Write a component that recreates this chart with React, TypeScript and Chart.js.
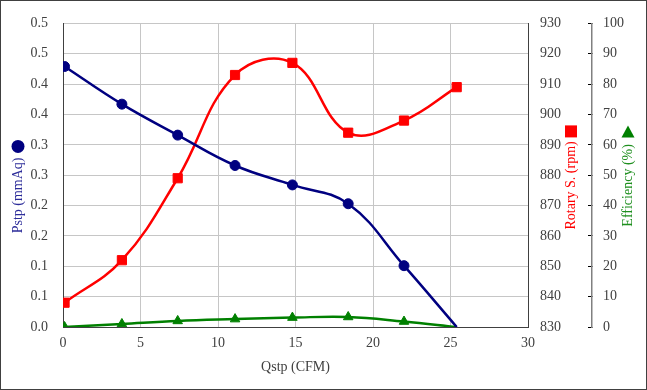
import { useEffect, useRef } from 'react';
import { Chart, registerables } from 'chart.js';

Chart.register(...registerables);

// ---- data ----
const qstp = [0.1, 3.8, 7.4, 11.1, 14.8, 18.4, 22.0, 25.4];
const pstp = [0.429, 0.367, 0.316, 0.266, 0.234, 0.203, 0.101, 0.0];
const rotarySpeed = [838, 852, 879, 913, 917, 894, 898, 909];
const efficiency = [0.0, 1.0, 2.0, 2.6, 3.1, 3.3, 1.8, 0.0];

const xRange = [0, 30, 5];
const pstpRange = [0, 0.5, 0.05];
const rpmRange = [830, 930, 10];
const effRange = [0, 100, 10];

const xTitle = 'Qstp (CFM)';
const pstpTitle = 'Pstp (mmAq)';
const rpmTitle = 'Rotary S. (rpm)';
const effTitle = 'Efficiency (%)';

const NAVY = '#000080';
const RED = '#ff0000';
const GREEN = '#008000';
const TEXT = '#404040';
const GRID = '#c6c6c6';
const AXIS = '#404040';
const FONT = "'Liberation Serif', 'Times New Roman', serif";

const toPoints = (ys: number[]) => qstp.map((x, i) => ({ x, y: ys[i] }));

const titlesPlugin = {
  id: 'titlesPlugin',
  afterDraw(chart: any) {
    const ctx = chart.ctx as CanvasRenderingContext2D;
    const ca = chart.chartArea;
    const yEff = chart.scales.y2;
    ctx.save();
    ctx.font = `14px ${FONT}`;
    ctx.textAlign = 'center';
    ctx.textBaseline = 'middle';

    const vtext = (txt: string, x: number, y: number, color: string) => {
      ctx.save();
      ctx.translate(x, y);
      ctx.rotate(-Math.PI / 2);
      ctx.fillStyle = color;
      ctx.fillText(txt, 0, 0);
      ctx.restore();
    };

    // left title + circle key
    const lx = 18;
    vtext(pstpTitle, lx, ca.top + 172, '#2b2b99');
    ctx.fillStyle = NAVY;
    ctx.beginPath();
    ctx.arc(lx, ca.top + 123, 6.5, 0, Math.PI * 2);
    ctx.fill();

    // rpm title + square key
    const rx = ca.right + 43;
    vtext(rpmTitle, rx, ca.top + 162, RED);
    ctx.fillStyle = RED;
    ctx.fillRect(rx - 6, ca.top + 108 - 6, 12, 12);

    // efficiency title + triangle key
    const ex = yEff.right - 19;
    vtext(effTitle, ex, ca.top + 162, '#1f8f1f');
    ctx.fillStyle = GREEN;
    ctx.beginPath();
    ctx.moveTo(ex, ca.top + 108 - 6);
    ctx.lineTo(ex + 6.5, ca.top + 108 + 6);
    ctx.lineTo(ex - 6.5, ca.top + 108 + 6);
    ctx.closePath();
    ctx.fill();

    // outer frame
    ctx.strokeStyle = '#404040';
    ctx.lineWidth = 1;
    ctx.strokeRect(0.5, 0.5, chart.width - 1, chart.height - 1);
    ctx.restore();
  },
};

export default function App() {
  const ref = useRef<HTMLCanvasElement | null>(null);

  useEffect(() => {
    if (!ref.current) return;
    const chart = new Chart(ref.current, {
      type: 'line',
      data: {
        datasets: [
          {
            label: pstpTitle,
            data: toPoints(pstp),
            yAxisID: 'y',
            borderColor: NAVY,
            backgroundColor: NAVY,
            borderWidth: 2.5,
            pointStyle: 'circle',
            pointRadius: pstp.map((_, i) => (i === pstp.length - 1 ? 0 : 5)),
            pointBorderWidth: 1,
            tension: 0.4,
          },
          {
            label: rpmTitle,
            data: toPoints(rotarySpeed),
            yAxisID: 'y1',
            borderColor: RED,
            backgroundColor: RED,
            borderWidth: 2.5,
            pointStyle: 'rect',
            pointRadius: 6.5,
            pointBorderWidth: 1,
            tension: 0.4,
          },
          {
            label: effTitle,
            data: toPoints(efficiency),
            yAxisID: 'y2',
            borderColor: GREEN,
            backgroundColor: GREEN,
            borderWidth: 2.5,
            pointStyle: 'triangle',
            pointRadius: efficiency.map((_, i) => (i === efficiency.length - 1 ? 0 : 5.5)),
            pointBorderWidth: 1,
            tension: 0.4,
          },
        ],
      },
      options: {
        responsive: false,
        animation: false,
        layout: { padding: { top: 19, left: 0, right: 0, bottom: 0 } },
        plugins: { legend: { display: false }, tooltip: { enabled: false } },
        font: { family: FONT, size: 14 },
        scales: {
          x: {
            type: 'linear',
            position: 'bottom',
            min: xRange[0],
            max: xRange[1],
            afterFit: (s: any) => { s.height = 63; },
            ticks: { stepSize: xRange[2], color: TEXT, font: { family: FONT, size: 14 }, padding: 8, maxRotation: 0 },
            grid: { color: GRID, drawTicks: false },
            border: { color: AXIS, width: 1 },
            title: { display: true, text: xTitle, color: TEXT, font: { family: FONT, size: 14 }, padding: { top: 0, bottom: 14 } },
          },
          y: {
            type: 'linear',
            position: 'left',
            min: pstpRange[0],
            max: pstpRange[1],
            afterFit: (s: any) => { s.width = 63; },
            ticks: {
              stepSize: pstpRange[2],
              color: TEXT,
              font: { family: FONT, size: 14 },
              padding: 15,
              callback: (v: any) => (Math.round(Number(v) * 10 + 1e-6) / 10).toFixed(1),
            },
            grid: { color: GRID, drawTicks: false },
            border: { color: AXIS, width: 1 },
          },
          y1: {
            type: 'linear',
            position: 'right',
            weight: 1,
            min: rpmRange[0],
            max: rpmRange[1],
            afterFit: (s: any) => { s.width = 64; },
            ticks: { stepSize: rpmRange[2], color: TEXT, font: { family: FONT, size: 14 }, padding: 12 },
            grid: { drawOnChartArea: false, drawTicks: false },
            border: { color: AXIS, width: 1 },
          },
          y2: {
            type: 'linear',
            position: 'right',
            weight: 2,
            min: effRange[0],
            max: effRange[1],
            afterFit: (s: any) => { s.width = 55; },
            ticks: { stepSize: effRange[2], color: TEXT, font: { family: FONT, size: 14 }, padding: 15 },
            grid: { drawOnChartArea: false, drawTicks: true, tickLength: -4, tickColor: '#000000' },
            border: { color: '#808080', width: 1.5 },
          },
        },
      } as any,
      plugins: [titlesPlugin],
    });
    return () => chart.destroy();
  }, []);

  return (
    <div style={{ position: 'absolute', left: 0, top: 0, width: 647, height: 390, background: '#fff' }}>
      <canvas ref={ref} width={647} height={390} />
    </div>
  );
}
